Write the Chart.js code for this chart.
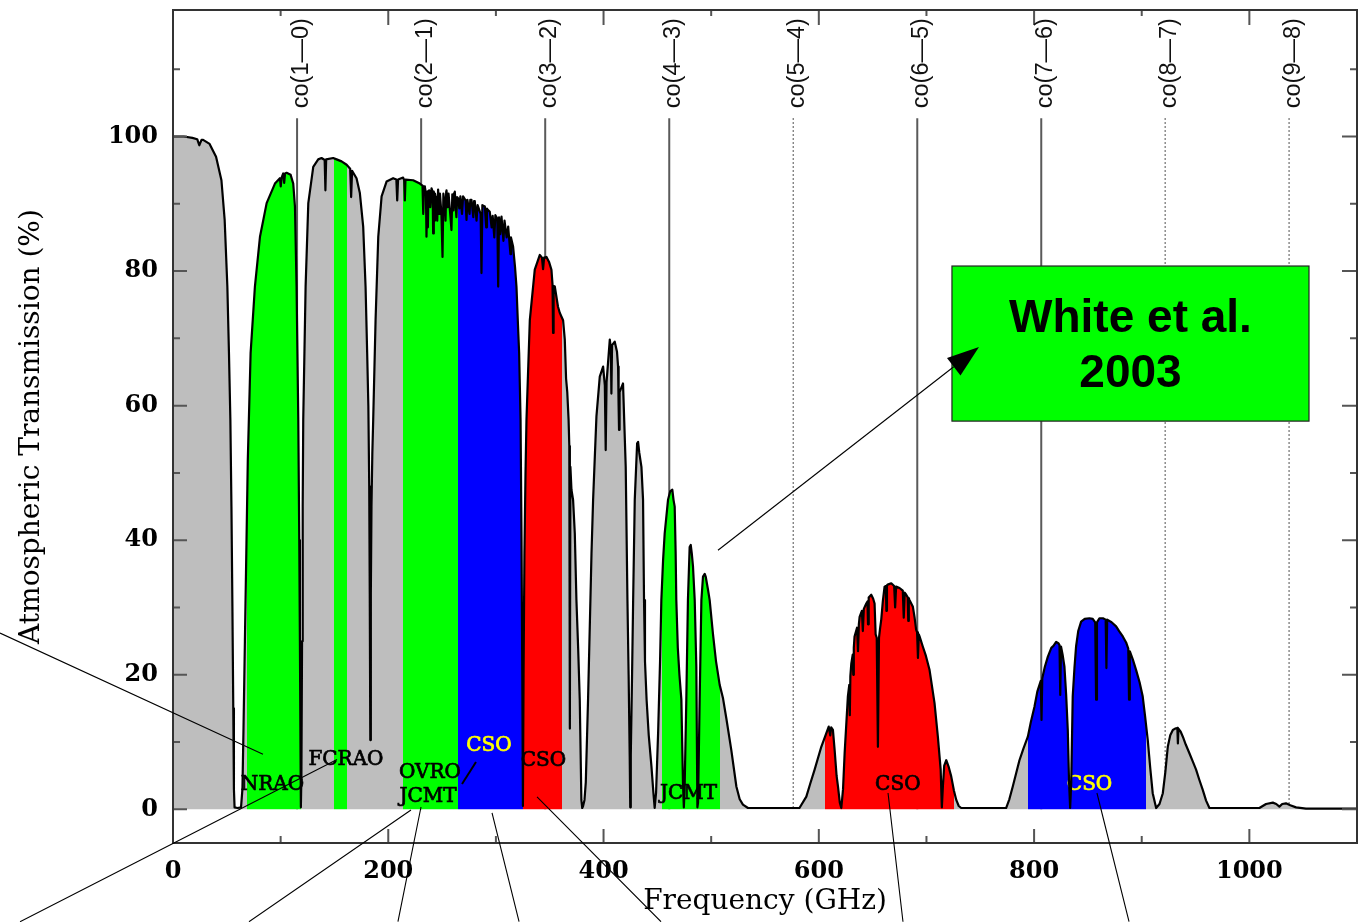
<!DOCTYPE html>
<html>
<head>
<meta charset="utf-8">
<title>Atmospheric Transmission</title>
<script src="https://cdn.jsdelivr.net/npm/chart.js@4.4.1/dist/chart.umd.min.js"></script>
<style>
  html, body { margin: 0; padding: 0; background: #ffffff; }
  canvas { display: block; }
</style>
</head>
<body>
<canvas id="chart" width="1364" height="922"></canvas>
<script>
// ---------------------------------------------------------------
// Atmospheric transmission spectrum, [frequency GHz, transmission %]
// one array per atmospheric window
// ---------------------------------------------------------------
const window0to57 = [
  [0,100],[10,100],[18,99.8],[22.5,99.6],[24.4,98.7],[26.5,99.5],[28,99.5],[34,98.9],
  [40,97.0],[45,93.5],[48,87.6],[50.5,77.7],[52,67.8],[53.3,57.9],[54.3,45],[55.2,30],
  [56,15],[56.6,3],[57.2,0.3]
];
const window57to119 = [
  [60,0.2],[63.2,0.3],[64.5,3],[65.5,12],[66.8,25],[68.3,40],[69.5,52],[72.1,67.8],
  [76.1,77.7],[80.8,85.1],[87,90.1],[94.7,93.0],[99.3,93.8],[100.1,92.6],[100.9,93.9],
  [102.4,94.5],[103.3,93.1],[104.1,94.5],[105.5,94.6],[109.3,94.3],[111.7,93.0],
  [113.3,89.6],[114.8,77.7],[116.4,57.9],[117.3,40],[117.9,25],[118.5,8],[118.8,0.3]
];
const window119to186 = [
  [119.3,5],[119.9,25],[120.5,45],[121,57.9],[123.2,77.7],[125.7,90.1],[130.3,95.5],
  [134.9,96.6],[138,96.8],[140.9,96.5],[141.6,92.0],[142.3,96.6],[148.8,96.8],[152,96.6],
  [156.6,96.3],[161.3,95.8],[164.6,95.2],[165.5,91.0],[166.4,94.9],[170.5,93.8],
  [173.6,91.6],[176.7,86.6],[178.9,77.7],[180.4,67.8],[181.5,60],[182.3,48],[182.8,32],
  [183.3,10.3],[183.8,32],[184.4,45],[185.2,53],[186,57.9]
];
const window186to328 = [
  [188.2,72.7],[190.7,85.1],[193.8,91.1],[198.4,93.3],[204.5,93.8],[207.5,93.6],
  [208.3,90.5],[209.1,93.6],[213.8,93.9],[214.8,93.5],[215.4,90.5],[216,93.6],[223.1,93.5],
  [229.3,93.0],[231.8,92.7],[232.5,88.5],[233.2,92.6],[234,92.5],[235,91.5],[235.5,85.1],
  [236.2,91.8],[236.8,86.5],[237.3,91.9],[238,92.0],[239,89.5],[240.2,92.3],[241.2,91.8],
  [241.7,85.6],[242.3,91.8],[242.8,87.5],[243.4,91.5],[244,91],[244.6,88],[245.0,91],
  [245.5,87.5],[246.3,92.1],[247.2,88.5],[248,91.5],[249.4,88.5],[250.4,82.1],[251.2,91.5],
  [252.5,90],[253.2,87.5],[253.8,91.8],[254.1,92.0],[255.2,89.5],[256,91.5],[257.8,88],
  [258.7,86.1],[259.5,91.4],[260.6,89],[261.2,91.6],[261.8,91.8],[263.3,88],[264.0,91],
  [264.9,90.8],[266,89.3],[267,91.1],[268.5,88.5],[269.5,91.1],[271.8,90.5],[272.7,87.6],
  [273.5,90.6],[275.5,88.5],[276.2,90.6],[277.3,90.6],[279,88],[279.7,90.4],[280.4,90.3],
  [282,87.5],[283,89.8],[285.8,88.5],[286.6,79.7],[287.4,89.8],[289.7,89.6],[291,86.5],
  [291.7,89.3],[292,89.2],[294.3,88.8],[296,86.5],[297,88.2],[298.5,85],[299.5,88.3],
  [301.3,87.8],[302.1,77.7],[302.9,88],[304,85.5],[305.2,88.1],[307,84.5],[308,87.5],
  [310,85],[311.4,86.6],[313.5,82.5],[314,85],[316,83.6],[317.8,80.5],[319.1,77.7],
  [320.5,72],[321.6,67.8],[322.9,57.9],[323.8,40],[324.5,20],[325.1,0.5],[325.7,20],
  [326.5,38],[327.5,50]
];
const window328to388 = [
  [328.4,57.9],[331.5,72.7],[336.1,80.2],[340.8,82.4],[342.8,82.0],[343.8,80.3],
  [344.8,82.0],[347,82.1],[349.5,81.3],[351.6,80.2],[352.6,78],[353.1,70.8],[353.6,77.8],
  [354.7,77.7],[357.7,74.7],[359.3,73.8],[362.4,72.7],[364,69.8],[365.2,64],[366.3,62],
  [367.5,58],[368.2,54],[368.7,12],[369.2,50.9],[370.2,47.5],[371.7,46],[373.3,41],
  [374.8,31.1],[376.4,24],[377.9,16.3],[379.4,1.4],[380.2,0.2],[381,0.5],[382.3,1.4],
  [383.5,4],[385.6,16.3],[387.8,31.1]
];
const window388to454 = [
  [388.8,38],[390.3,46],[393.4,58.4],[396.5,64.3],[399.6,65.8],[401.2,63],[402,53.4],
  [402.8,63.5],[405.8,69.8],[406.8,68.5],[407.3,61.8],[407.9,69],[410.4,69.5],[412.5,68],
  [413.5,65.8],[414,60],[414.4,56.4],[414.9,62],[418.1,63.3],[420.6,50.9],[422.2,31.1],
  [423.3,20],[424.3,8],[424.8,0.3],[425.3,8],[426.5,20],[427.5,31.1],[429,46],[431.2,54.4],
  [432.1,54.6],[433.2,53],[435.2,50.9],[436.7,46],[437.6,31.1],[438.5,22],[440,16.3],
  [442,11],[444.5,6.4],[446.3,2.5],[447.5,0.2],[448.8,2.5],[450.7,11.4],[452.5,22],
  [453.7,31.1]
];
const window454to560 = [
  [455.3,37],[456.8,41],[459.9,46],[462,47.3],[463.9,47.5],[465,46],[466.1,45],[467,38],
  [467.6,31.1],[469,24],[470.5,20],[472.3,16.3],[473.8,3.9],[474.6,0.3],[475.3,3],
  [476.9,16.3],[478.4,31.1],[480,39],[481,39.3],[482,38],[483.1,36.1],[484.7,31.1],
  [486.2,21.2],[487.2,0.3],[487.8,1],[489.3,16.3],[490.9,31.1],[492.4,34.6],[494,35],
  [494.9,34.6],[497.1,32.6],[498.6,31.1],[501.7,26],[504.5,22],[507.9,18.5],[511,16.5],
  [514.1,13.5],[518.7,8.8],[523.4,3.4],[526.5,1.5],[529.5,0.7],[534.2,0.2],[560,0.2]
];
const window560to733 = [
  [582,0.2],[588.4,1.9],[592,3.8],[596.1,5.9],[602.3,9.3],[606.9,11.3],[609.2,12.3],
  [610.6,11.0],[611.5,12.2],[613.1,11.8],[614.7,8.8],[616.5,5],[617.8,3.4],[619.5,1],
  [620.9,0.2],[622.5,3],[624,8.4],[627,16.8],[628.3,18.5],[628.8,14],[629.3,19.8],
  [630.2,21.7],[631.5,23],[632,20],[632.5,24],[633.2,25.7],[635.5,27],
  [636.4,23.5],[637.2,27.5],[637.9,28.6],[640,29.5],[640.9,26.5],[641.8,29.8],[644.1,30.6],
  [645.2,30.9],[645.7,27.5],[646.2,31.3],[646.5,31.5],[648.7,31.9],[650.5,31.3],[651.8,30.6],
  [652.8,26],[653.8,25.5],[654.9,9.3],[655.9,25.5],[657,27],[658,28.2],[659.5,31],
  [661.1,33.1],[662.3,33.2],[662.8,29.5],[663.3,33.3],[664,33.4],[667.3,33.6],
  [670,33.2],[670.9,30.0],[671.8,33.1],[675,32.9],[678,32.5],[678.9,28.5],[679.8,32.2],
  [681.2,31.9],[682.6,31.5],[683.1,28],[683.6,31.4],[684,31.2],[687.4,30.1],[689,28.5],
  [690.4,26.7],[691.3,26.3],[692.1,22.5],
  [692.9,26],[693.6,25.7],[696.6,24.2],[699.5,22.8],[702.9,20.7],[707.5,15.8],[710.6,10.8],
  [713.2,5.9],[714.3,0.3],[715.3,3.5],[716.5,6.5],[718.4,7.3],[720.5,6.4],[723,4.9],
  [725.5,2.8],[727.7,1.4],[730,0.5],[732.3,0.2]
];
const window733to1100 = [
  [774,0.2],[777,1.5],[780.2,3.4],[786.4,7.3],[790,9],[794.2,10.8],[797,13],[800.4,15.3],
  [803,17.5],[806.2,19.1],[806.9,13.3],[807.6,19.5],[810,21.2],[812.8,22.7],[816,24],
  [818,24.3],[820.5,24.9],[822.5,24.7],[823.6,24.4],[824.3,17],[825.0,24.2],[826.5,23],
  [828.2,21.2],[829.8,17],[831.3,11.8],[832.5,4],[833.5,0.2],[834.5,4],[835.9,16.8],
  [837.5,21],[839,24.2],[841,26.5],[843.7,27.9],[847,28.3],[851.4,28.4],[854.5,28.3],
  [856.8,27.8],[857.6,16.3],[858.4,27.8],[860.7,28.4],[864,28.4],[866.5,28.2],[867.2,21],
  [867.9,28.2],[872,27.8],[876.2,27.2],[879,26.5],[882.4,25.7],[885.5,24.8],[887.5,23.9],
  [888.2,16.3],[888.9,23.5],[891.7,22.3],[894.8,20.7],[898,18.9],[900.9,16.8],[903,14],
  [905.6,10.3],[908,6],[910.2,2.4],[913.4,0.2],[916.5,0.8],[919.6,2.4],[921.9,5.5],
  [924.2,9.3],[926.5,11],[928.9,11.8],[931,12],[933.1,12.1],[933.6,9.8],[934.1,12.0],
  [936,11.6],[938.2,10.8],[941,9.6],[944.4,8.3],[947.5,7.1],[950.5,5.9],[953.5,4.4],
  [956.7,2.9],[959.8,1.3],[962.9,0.2],[1009.3,0.2],[1015.5,0.8],[1021.8,1.0],[1025,0.8],
  [1027.9,0.4],[1030.5,0.8],[1034,0.9],[1038,0.6],[1043.4,0.3],[1052.6,0.1],[1100,0.1]
];

// Observatory receiver bands (GHz) and the colour each is shaded with
const bandStartGHz = [69.0, 149.3, 214.0, 264.5, 325.4, 454.0, 605.7, 794.6];
const bandEndGHz   = [119.0, 161.9, 264.5, 325.4, 361.7, 508.2, 725.6, 903.7];
const bandColors   = ['#00ff00', '#00ff00', '#00ff00', '#0000ff', '#ff0000', '#00ff00', '#ff0000', '#0000ff'];

// CO rotational transitions (GHz)
const coLabels  = ['co(1\u20140)', 'co(2\u20141)', 'co(3\u20142)', 'co(4\u20143)', 'co(5\u20144)',
                   'co(6\u20145)', 'co(7\u20146)', 'co(8\u20147)', 'co(9\u20148)'];
const coFreqGHz = [115.27, 230.54, 345.80, 461.04, 576.27, 691.47, 806.65, 921.80, 1036.91];
const coDotted  = [false, false, false, false, true, false, false, true, true];

// Axis tick labels
const xTickValues = [0, 200, 400, 600, 800, 1000];
const yTickValues = [0, 20, 40, 60, 80, 100];

// ---------------------------------------------------------------
const spectrum = [].concat(window0to57, window57to119, window119to186, window186to328,
  window328to388, window388to454, window454to560, window560to733, window733to1100)
  .map(([f, t]) => ({ x: f, y: t }));

const GRAY = '#bebebe';
const SERIF = "'DejaVu Serif', 'Liberation Serif', serif";
const SANS = "'Liberation Sans', Arial, sans-serif";

// horizontal gradient with hard colour stops at every band edge
function bandFill(chart) {
  const area = chart.chartArea;
  const xs = chart.scales.x;
  if (!area || !xs) return GRAY;
  const w = area.right - area.left;
  const pos = f => Math.min(1, Math.max(0, (xs.getPixelForValue(f) - area.left) / w));
  const g = chart.ctx.createLinearGradient(area.left, 0, area.right, 0);
  g.addColorStop(0, GRAY);
  for (let i = 0; i < bandStartGHz.length; i++) {
    const a = pos(bandStartGHz[i]), b = pos(bandEndGHz[i]);
    g.addColorStop(a, GRAY); g.addColorStop(a, bandColors[i]);
    g.addColorStop(b, bandColors[i]); g.addColorStop(b, GRAY);
  }
  g.addColorStop(1, GRAY);
  return g;
}

// annotation layout, in data units (GHz, %)
const CO_LINE_TOP = 102.7;
const CO_TEXT_BASE = 104.2;
const siteTags = [
  { t: 'NRAO',  f: 92.4,  v: 3.77, c: '#000' },
  { t: 'FCRAO', f: 160.7, v: 7.48, c: '#000' },
  { t: 'OVRO',  f: 238.8, v: 5.63, c: '#000' },
  { t: 'JCMT',  f: 236.9, v: 1.99, c: '#000' },
  { t: 'CSO',   f: 293.6, v: 9.64, c: '#ffff00' },
  { t: 'CSO',   f: 344.2, v: 7.34, c: '#000' },
  { t: 'JCMT',  f: 478.9, v: 2.43, c: '#000' },
  { t: 'CSO',   f: 673.4, v: 3.87, c: '#000' },
  { t: 'CSO',   f: 851.5, v: 3.87, c: '#ffff00' }
];
const leaders = [
  [-160.7, 26.2, 83.6, 8.2],
  [152.4, 7.4, -142.1, -16.7],
  [221.1, -0.1, 70.6, -16.7],
  [230.4, 0.35, 209.0, -16.7],
  [296.4, -0.54, 321.5, -16.7],
  [338.2, 1.84, 453.4, -16.7],
  [664.3, 2.43, 678.2, -16.7],
  [858.4, 2.43, 888.2, -16.7]
];
const slash = [281.5, 7.04, 268.5, 3.77];
const noteBox = { f0: 723.7, v0: 80.75, f1: 1055.4, v1: 57.7, lines: ['White et al.', '2003'], lineV: [73.2, 65.0] };
const noteArrow = [506.3, 38.5, 748.8, 68.7];

const decor = {
  id: 'decor',
  beforeDatasetsDraw(chart) {
    // CO transition markers sit behind the shaded spectrum
    const { ctx, scales: { x, y } } = chart;
    ctx.save();
    ctx.strokeStyle = '#5a5a5a';
    coFreqGHz.forEach((f, i) => {
      const px = x.getPixelForValue(f);
      ctx.beginPath();
      if (coDotted[i]) { ctx.setLineDash([1.5, 2.5]); ctx.lineWidth = 1.4; }
      else { ctx.setLineDash([]); ctx.lineWidth = 2; }
      ctx.moveTo(px, y.getPixelForValue(CO_LINE_TOP));
      ctx.lineTo(px, y.getPixelForValue(0));
      ctx.stroke();
    });
    ctx.restore();
  },
  beforeDatasetDraw(chart, args) {
    if (args.index !== 0) return;
    // observatory names, beneath the black outline of the spectrum
    const { ctx, scales: { x, y } } = chart;
    ctx.save();
    ctx.font = '20px ' + SERIF;
    ctx.textAlign = 'center';
    ctx.textBaseline = 'middle';
    ctx.lineWidth = 0.7;
    siteTags.forEach(s => {
      const px = x.getPixelForValue(s.f), py = y.getPixelForValue(s.v) + 1;
      ctx.fillStyle = s.c; ctx.strokeStyle = s.c;
      ctx.fillText(s.t, px, py);
      ctx.strokeText(s.t, px, py);
    });
    ctx.restore();
  },
  afterDraw(chart) {
    const { ctx, chartArea: a, scales: { x, y } } = chart;
    ctx.save();
    // tick marks on all four sides
    ctx.strokeStyle = '#555';
    ctx.lineWidth = 2;
    ctx.beginPath();
    for (let v = 0; v <= 1000; v += 100) {
      const px = x.getPixelForValue(v);
      const major = v % 200 === 0;
      ctx.moveTo(px, a.bottom); ctx.lineTo(px, a.bottom - (major ? 14 : 7));
      ctx.moveTo(px, a.top); ctx.lineTo(px, a.top + (major ? 15 : 6));
    }
    for (let v = 0; v <= 110; v += 10) {
      const py = y.getPixelForValue(v);
      const major = v % 20 === 0;
      ctx.moveTo(a.left, py); ctx.lineTo(a.left + (major ? 14 : 7), py);
      ctx.moveTo(a.right, py); ctx.lineTo(a.right - (major ? 15 : 7), py);
    }
    ctx.stroke();
    // frame
    ctx.strokeStyle = '#333';
    ctx.lineWidth = 2;
    ctx.strokeRect(a.left, a.top, a.right - a.left, a.bottom - a.top);

    // CO transition names, reading upwards
    ctx.fillStyle = '#111';
    ctx.font = '23.5px ' + SANS;
    ctx.textAlign = 'left';
    ctx.textBaseline = 'middle';
    coFreqGHz.forEach((f, i) => {
      ctx.save();
      ctx.translate(x.getPixelForValue(f) + 4, y.getPixelForValue(CO_TEXT_BASE));
      ctx.rotate(-Math.PI / 2);
      ctx.fillText(coLabels[i], 0, 0);
      ctx.restore();
    });

    // leader lines from the band names
    ctx.strokeStyle = '#000';
    ctx.lineWidth = 1.1;
    ctx.beginPath();
    leaders.forEach(([f0, v0, f1, v1]) => {
      ctx.moveTo(x.getPixelForValue(f0), y.getPixelForValue(v0));
      ctx.lineTo(x.getPixelForValue(f1), y.getPixelForValue(v1));
    });
    ctx.stroke();
    ctx.lineWidth = 2;
    ctx.beginPath();
    ctx.moveTo(x.getPixelForValue(slash[0]), y.getPixelForValue(slash[1]));
    ctx.lineTo(x.getPixelForValue(slash[2]), y.getPixelForValue(slash[3]));
    ctx.stroke();

    // citation box
    const bx0 = x.getPixelForValue(noteBox.f0), by0 = y.getPixelForValue(noteBox.v0);
    const bx1 = x.getPixelForValue(noteBox.f1), by1 = y.getPixelForValue(noteBox.v1);
    ctx.fillStyle = '#00ff00';
    ctx.fillRect(bx0, by0, bx1 - bx0, by1 - by0);
    ctx.strokeStyle = '#222';
    ctx.lineWidth = 1.2;
    ctx.strokeRect(bx0, by0, bx1 - bx0, by1 - by0);
    ctx.fillStyle = '#000';
    ctx.font = 'bold 46px ' + SANS;
    ctx.textAlign = 'center';
    ctx.textBaseline = 'middle';
    noteBox.lines.forEach((t, i) => {
      ctx.fillText(t, (bx0 + bx1) / 2, y.getPixelForValue(noteBox.lineV[i]) + 2);
    });

    // arrow into the box
    const ax0 = x.getPixelForValue(noteArrow[0]), ay0 = y.getPixelForValue(noteArrow[1]);
    const ax1 = x.getPixelForValue(noteArrow[2]), ay1 = y.getPixelForValue(noteArrow[3]);
    const ang = Math.atan2(ay1 - ay0, ax1 - ax0);
    const len = 32, half = 11;
    const bxc = ax1 - len * Math.cos(ang), byc = ay1 - len * Math.sin(ang);
    ctx.strokeStyle = '#000';
    ctx.lineWidth = 1.1;
    ctx.beginPath();
    ctx.moveTo(ax0, ay0); ctx.lineTo(bxc, byc);
    ctx.stroke();
    ctx.fillStyle = '#000';
    ctx.beginPath();
    ctx.moveTo(ax1, ay1);
    ctx.lineTo(bxc + half * Math.sin(ang), byc - half * Math.cos(ang));
    ctx.lineTo(bxc - half * Math.sin(ang), byc + half * Math.cos(ang));
    ctx.closePath();
    ctx.fill();
    ctx.restore();
  }
};

new Chart(document.getElementById('chart'), {
  type: 'line',
  data: {
    datasets: [
      {
        data: spectrum,
        borderColor: '#000',
        borderWidth: 2.2,
        borderJoinStyle: 'round',
        pointRadius: 0,
        fill: false,
        tension: 0
      },
      {
        data: spectrum,
        borderWidth: 0,
        pointRadius: 0,
        fill: 'origin',
        backgroundColor: ctx => bandFill(ctx.chart),
        tension: 0
      }
    ]
  },
  options: {
    responsive: false,
    animation: false,
    devicePixelRatio: 1,
    events: [],
    layout: { padding: { left: 0, right: 7, top: 10, bottom: 0 } },
    plugins: { legend: { display: false }, tooltip: { enabled: false } },
    scales: {
      x: {
        type: 'linear',
        min: 0,
        max: 1100,
        grid: { display: false, drawTicks: false },
        border: { display: false },
        afterBuildTicks: s => { s.ticks = xTickValues.map(v => ({ value: v })); },
        afterFit: s => { s.height = 79; s.paddingLeft = 0; s.paddingRight = 0; },
        ticks: { font: { family: SERIF, size: 24, weight: 'bold' }, color: '#000', padding: 14,
                 maxRotation: 0, autoSkip: false, callback: v => String(v) },
        title: { display: true, text: 'Frequency (GHz)', color: '#000',
                 font: { family: SERIF, size: 28 }, padding: { top: 0, bottom: 3 } }
      },
      y: {
        type: 'linear',
        min: -5,
        max: 118.8,
        grid: { display: false, drawTicks: false },
        border: { display: false },
        afterBuildTicks: s => { s.ticks = yTickValues.map(v => ({ value: v })); },
        afterFit: s => { s.width = 173; s.paddingTop = 0; s.paddingBottom = 0; },
        ticks: { font: { family: SERIF, size: 24, weight: 'bold' }, color: '#000', padding: 15,
                 autoSkip: false, callback: v => String(v) },
        title: { display: true, text: 'Atmospheric Transmission (%)', color: '#000',
                 font: { family: SERIF, size: 28 }, padding: { top: 15, bottom: 0 } }
      }
    }
  },
  plugins: [decor]
});
</script>
</body>
</html>
